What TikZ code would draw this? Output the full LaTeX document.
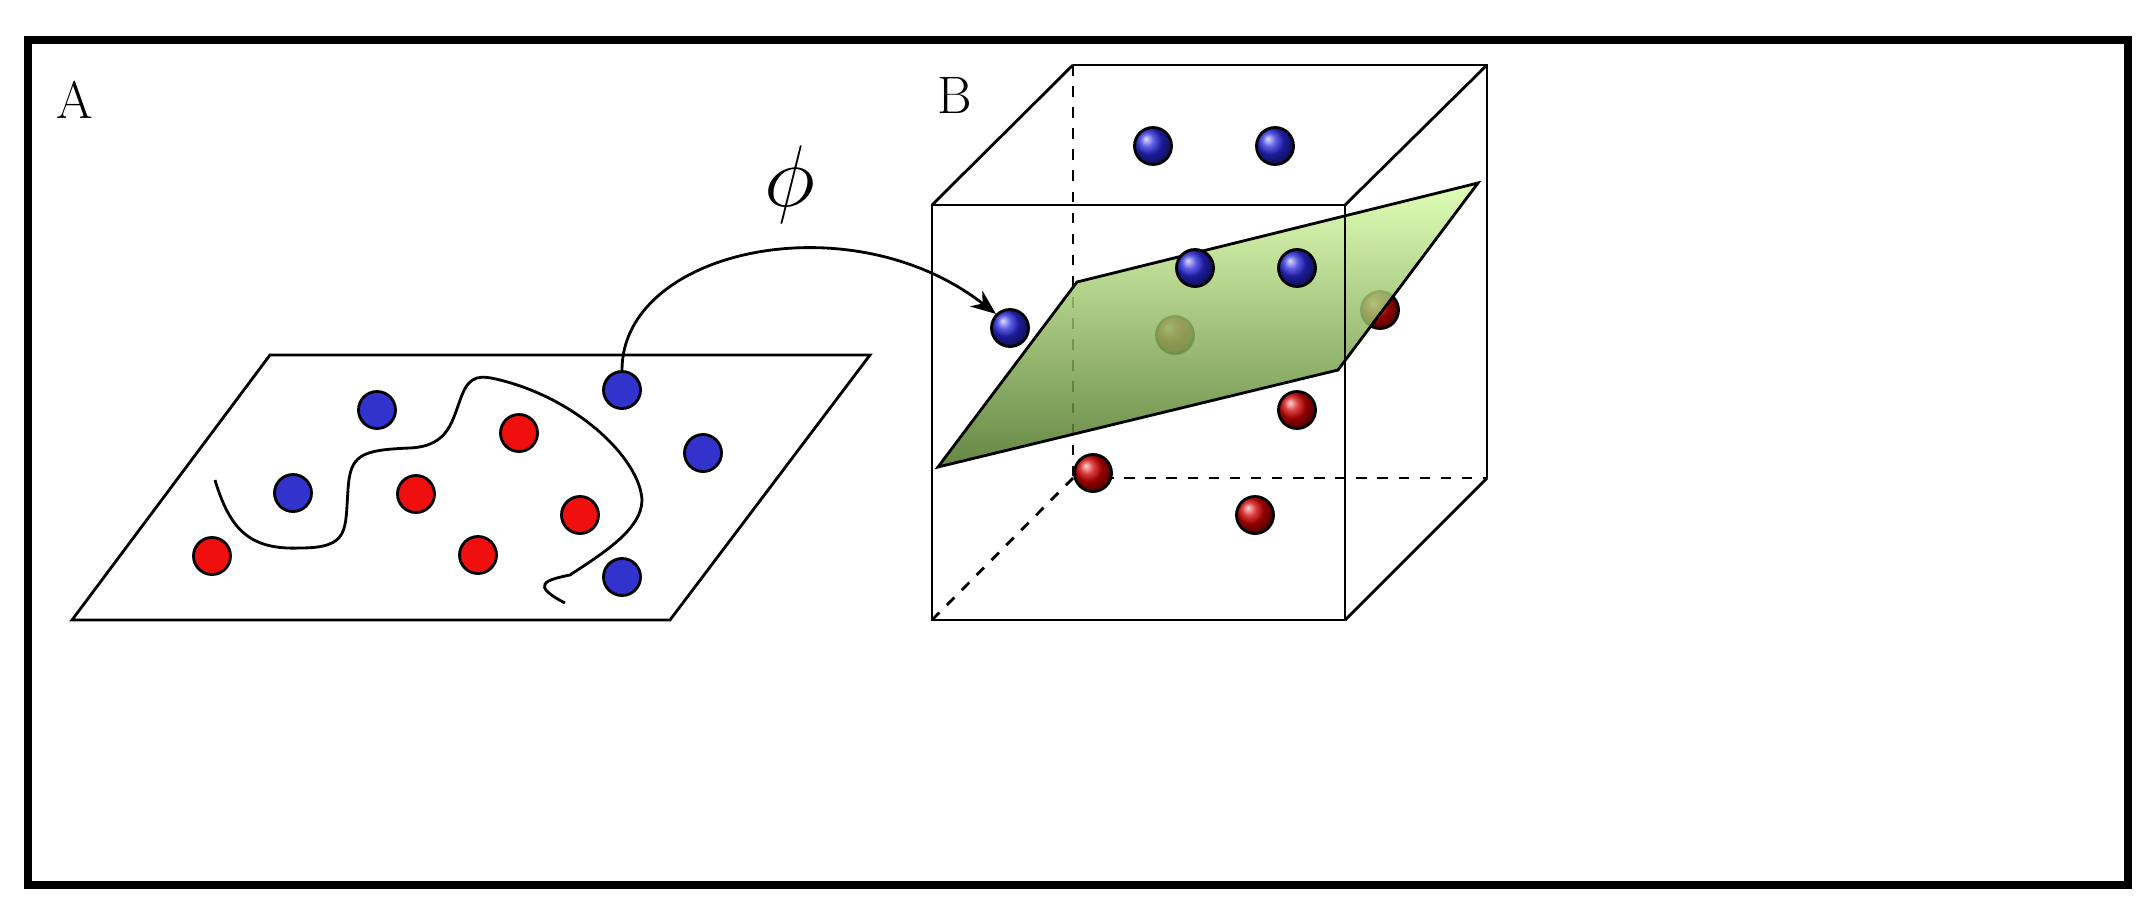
\documentclass[tikz,border=0pt]{standalone}
\usetikzlibrary{arrows.meta}
\begin{document}
\begin{tikzpicture}[x=0.01cm,y=-0.01cm,
  bdot/.style={circle,draw=black,line width=0.8pt,fill={rgb,255:red,50;green,50;blue,205},minimum size=0.37cm,inner sep=0pt},
  rdot/.style={circle,draw=black,line width=0.8pt,fill={rgb,255:red,240;green,15;blue,15},minimum size=0.37cm,inner sep=0pt},
  bball/.style={circle,draw=black,line width=0.8pt,shading=ball,ball color={rgb,255:red,40;green,40;blue,220},minimum size=0.37cm,inner sep=0pt},
  rball/.style={circle,draw=black,line width=0.8pt,shading=ball,ball color={rgb,255:red,210;green,0;blue,0},minimum size=0.37cm,inner sep=0pt},
  edge/.style={line width=0.8pt},
  hid/.style={line width=0.8pt,dashed},
  lbl/.style={font=\fontsize{15}{18}\selectfont}]
\useasboundingbox (0,0) rectangle (2156,921);
\draw[line width=2.2pt] (28,40) rectangle (2128,885);
\node[lbl] (la) at (75,100) {A};
\node[lbl] (lb) at (955,95) {B};
% Panel A
\draw[edge] (270,355) -- (870,355) -- (670,620) -- (72,620) -- cycle;
\draw[edge] (215,480) .. controls (230,530) and (250,550) .. (300,548)
  .. controls (350,548) and (345,530) .. (348,490)
  .. controls (350,455) and (360,450) .. (410,448)
  .. controls (450,446) and (452,420) .. (462,395)
  .. controls (470,375) and (480,375) .. (500,380)
  .. controls (580,400) and (640,460) .. (642,500)
  .. controls (642,530) and (600,555) .. (570,575)
  .. controls (545,580) and (530,585) .. (565,603);
\node[bdot] (a1) at (377,410) {};
\node[bdot] (a2) at (293,493) {};
\node[bdot] (a3) at (622,390) {};
\node[bdot] (a4) at (703,453) {};
\node[bdot] (a5) at (622,577) {};
\node[rdot] (a6) at (212,556) {};
\node[rdot] (a7) at (519,433) {};
\node[rdot] (a8) at (416,494) {};
\node[rdot] (a9) at (580,515) {};
\node[rdot] (a10) at (478,555) {};
% Panel B cube hidden edges
\draw[hid] (1073,65) -- (1073,478) -- (1487,478);
\draw[hid] (932,620) -- (1073,478);
\node[rball] (b1) at (1380,310) {};
\node[rball] (b2) at (1175,335) {};
\node[rball] (b3) at (1297,410) {};
\node[rball] (b4) at (1093,473) {};
\node[rball] (b5) at (1255,515) {};
\node[bball] (b6) at (1153,146) {};
\node[bball] (b7) at (1275,146) {};
\node[bball] (b10) at (1010,328) {};
\draw[edge,top color={rgb,255:red,220;green,255;blue,170},bottom color={rgb,255:red,75;green,115;blue,35},fill opacity=0.85]
  (1077,282) -- (1478,183) -- (1338,370) -- (938,467) -- cycle;
\node[bball] (b8) at (1195,268) {};
\node[bball] (b9) at (1297,268) {};
\draw[edge] (932,205) rectangle (1345,620);
\draw[edge] (1073,65) -- (1487,65) -- (1487,478);
\draw[edge] (932,205) -- (1073,65);
\draw[edge] (1345,205) -- (1487,65);
\draw[edge] (1345,620) -- (1487,478);
% arrow
\draw[edge,-{Stealth[length=0.25cm,width=0.2cm]}] (a3.north) .. controls (622,250) and (850,200) .. (b10.north west);
\node[font=\fontsize{26}{30}\selectfont] (phi) at (790,185) {$\phi$};
\end{tikzpicture}
\end{document}
